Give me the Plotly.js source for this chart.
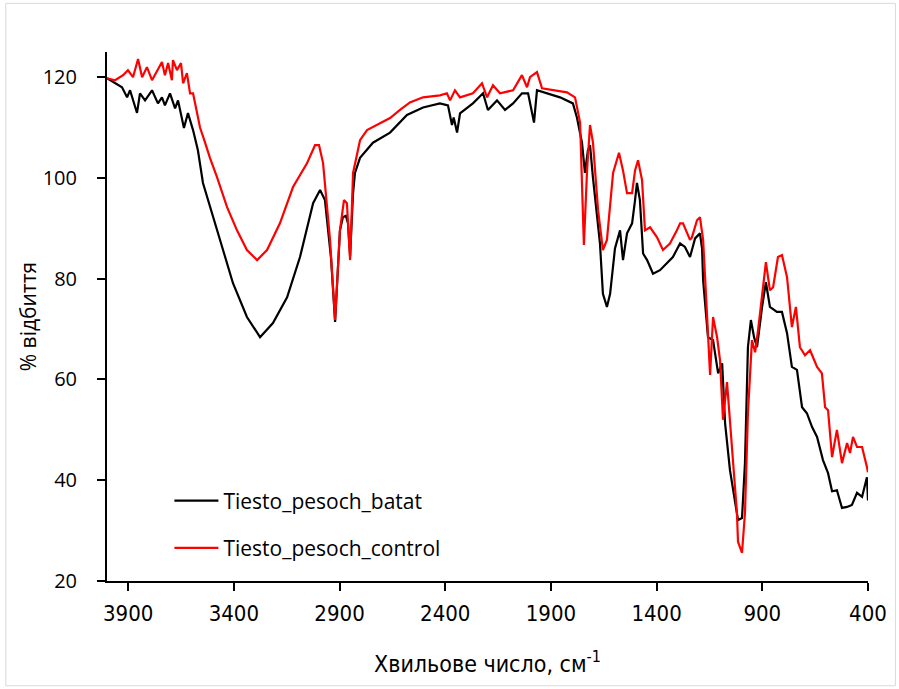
<!DOCTYPE html>
<html>
<head>
<meta charset="utf-8">
<script src="https://cdn.plot.ly/plotly-3.0.1.min.js"></script>
<style>html,body{margin:0;padding:0;background:#fff;}#chart{width:899px;height:689px;}</style>
</head>
<body>
<div id="chart"></div>
<script>
// Wavenumbers (cm-1) and reflectance (%)
const batatWave = [4000,3962,3929,3905,3891,3858,3844,3820,3787,3759,3740,3726,3702,3678,3664,3636,3617,3593,3570,3546,3499,3451,3404,3338,3276,3215,3148,3087,3025,2992,2969,2955,2940,2921,2898,2884,2870,2860,2850,2836,2827,2803,2742,2661,2581,2505,2425,2387,2368,2360,2344,2330,2269,2221,2198,2155,2117,2079,2037,2008,1980,1966,1919,1857,1796,1777,1753,1739,1725,1715,1701,1668,1654,1635,1620,1597,1573,1559,1540,1516,1502,1493,1479,1464,1445,1417,1384,1351,1323,1289,1266,1242,1218,1195,1185,1180,1157,1133,1109,1090,1076,1053,1029,1015,996,982,968,954,939,925,901,883,864,831,807,783,760,736,712,689,665,641,613,589,570,547,523,499,476,452,428,414,405,400];
const batatVal  = [119.8,118.8,118,116,117.4,112.9,116.8,115.4,117.4,114.8,116,114.4,116.8,113.8,115.4,109.9,112.9,109.5,105.5,99,92.2,85.7,79.1,72.4,68.4,71.2,76.3,84.3,95,97.6,95.6,90.2,84,71.4,89.6,92.2,92.5,91,84.5,97,101,104,107,109,112.5,114,114.8,114.4,110.5,112,109,112.8,114.8,116.8,113.5,115.4,113.5,114.8,116.8,116.8,111,117.4,116.8,116,114.8,112,107,101,105.5,106.5,100,87,77,74.4,77,86,89.6,83.7,89,91,95.6,99,95.6,85,83.7,81,81.7,83,84.3,87,86.3,84.3,88,89,86,79.7,68.4,67.8,61.2,63.2,51.3,42,36,32.1,32.5,43.4,66.4,71.8,68.4,66.4,74.4,79.3,74.4,73.4,73.4,69.2,62.5,61.9,54.5,53.3,50.6,48.6,44,41.4,37.8,38,34.5,34.7,35.1,37.5,36.7,39.4,40.6,36];

const controlWave = [4000,3962,3924,3901,3877,3853,3834,3811,3787,3763,3740,3726,3711,3693,3688,3669,3650,3640,3622,3607,3593,3570,3560,3536,3513,3480,3432,3385,3338,3290,3243,3182,3120,3054,3016,2997,2978,2945,2921,2898,2879,2865,2850,2836,2803,2770,2709,2661,2614,2567,2505,2425,2392,2377,2354,2330,2269,2226,2202,2174,2141,2079,2037,2013,1999,1966,1942,1890,1824,1786,1762,1744,1729,1715,1701,1677,1654,1635,1606,1578,1559,1540,1516,1502,1488,1469,1455,1431,1398,1370,1337,1304,1289,1275,1242,1233,1209,1195,1180,1162,1147,1133,1114,1100,1086,1067,1053,1039,1020,1015,996,982,968,949,934,920,901,883,864,849,826,807,783,760,741,722,698,674,641,618,603,589,570,547,523,499,485,471,452,428,405,400];
const controlVal  = [119.8,119.4,120.4,121.4,120,123.6,120,122,119.4,121.4,123,120.4,122.8,119.4,123.4,121.4,122.8,118.8,120.8,116.8,116.8,112.1,110,107,104,100.2,94.2,89.6,85.7,83.7,85.7,91,98.2,102.9,106.5,106.5,103,87.7,71.8,89.6,95.6,95,83.7,101,107.5,109.5,110.9,111.9,113.5,115,116,116.4,116.8,115.4,117.4,116,116.8,118.8,116,118.4,116.8,117.4,120.4,118,120,121,117.8,117.4,117,116,111,86.7,101.5,110.5,107,93.6,85.7,87.7,101,105,101.5,97,97,101.5,103.5,99.6,89.6,90.2,88.2,85.7,87,89.6,91,91,87.7,88.2,91.6,92.2,87.7,73.2,60.9,72.4,68.4,63.8,52,59.5,52,43.4,33.5,27.8,25.6,33.5,53.3,67.8,65.4,69.8,76.3,83.3,77.7,78.3,84.3,84.7,80.3,70.4,74.4,66.4,64.8,65.8,62.5,61.2,54.5,53.9,44.6,50,43.4,47.4,45.4,48.6,46.6,46.6,42.6,41.6];

const seriesNames = ['Tiesto_pesoch_batat', 'Tiesto_pesoch_control'];
const xTicks = [3900,3400,2900,2400,1900,1400,900,400];
const yTicks = [20,40,60,80,100,120];

const traces = [
  {x: batatWave, y: batatVal, name: seriesNames[0], legendgroup: 'a', type: 'scatter', mode: 'lines',
   line: {color: '#000000', width: 2.2}},
  {x: controlWave, y: controlVal, name: seriesNames[1], legendgroup: 'b', type: 'scatter', mode: 'lines',
   line: {color: '#FF0000', width: 2.2}}
];

const narrow = "'Liberation Sans Narrow', 'DejaVu Sans Condensed', sans-serif";

const layout = {
  width: 899, height: 689,
  margin: {l: 107, r: 31, t: 52, b: 108},
  paper_bgcolor: '#ffffff', plot_bgcolor: '#ffffff',
  font: {family: "'Open Sans', sans-serif", size: 20, color: '#000'},
  showlegend: true,
  legend: {x: 0.082, y: 0.19, xanchor: 'left', yanchor: 'top', bgcolor: 'rgba(0,0,0,0)',
           tracegroupgap: 17, traceorder: 'grouped', itemwidth: 44, font: {size: 21}},
  xaxis: {
    range: [4000, 400], tickmode: 'array', tickvals: xTicks, ticktext: xTicks.map(String),
    showgrid: false, zeroline: false, showline: true, linecolor: '#000', linewidth: 2,
    ticks: 'outside', ticklen: 8, tickwidth: 2, tickcolor: '#000', ticklabelstandoff: 4,
    tickfont: {family: narrow, size: 22},
    title: {text: 'Хвильове число, см<sup>-1</sup>', standoff: 30,
            font: {family: narrow, size: 23}}
  },
  yaxis: {
    range: [20, 125], tickmode: 'array', tickvals: yTicks,
    showgrid: false, zeroline: false, showline: true, linecolor: '#000', linewidth: 2,
    ticks: 'outside', ticklen: 8, tickwidth: 2, tickcolor: '#000', ticklabelstandoff: 16,
    tickfont: {size: 20},
    title: {text: '% відбиття', standoff: 0, font: {size: 21}}
  },
  shapes: [
    {type: 'rect', xref: 'paper', yref: 'paper', x0: -0.133, x1: 1.036, y0: -0.198, y1: 1.092,
     line: {color: '#d9d9d9', width: 1}, layer: 'below'}
  ]
};

Plotly.newPlot('chart', traces, layout, {displayModeBar: false, staticPlot: true});
</script>
</body>
</html>
